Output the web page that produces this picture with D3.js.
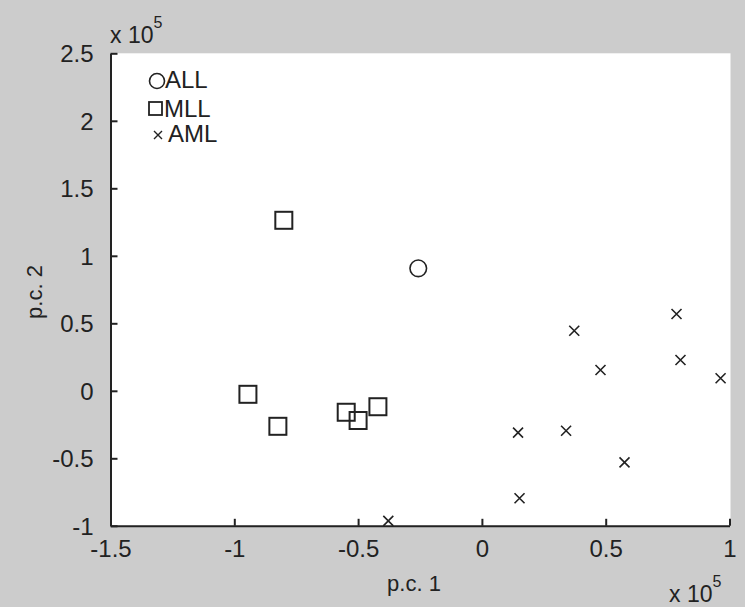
<!DOCTYPE html>
<html>
<head>
<meta charset="utf-8">
<script src="https://cdn.jsdelivr.net/npm/d3@7/dist/d3.min.js"></script>
<style>
  html, body { margin: 0; padding: 0; background: #cccccc; }
  svg { display: block; }
  text { font-family: "Liberation Sans", Arial, sans-serif; fill: #222; }
</style>
</head>
<body>
<svg id="chart" width="745" height="607"></svg>
<script>
// ---- data (units of 1e5) ----
const xTicks = [-1.5, -1, -0.5, 0, 0.5, 1];
const xTickLabels = ["-1.5", "-1", "-0.5", "0", "0.5", "1"];
const yTicks = [-1, -0.5, 0, 0.5, 1, 1.5, 2, 2.5];
const yTickLabels = ["-1", "-0.5", "0", "0.5", "1", "1.5", "2", "2.5"];

const allX = [-0.257];
const allY = [0.907];
const mllX = [-0.80, -0.945, -0.824, -0.548, -0.50, -0.42];
const mllY = [1.263, -0.026, -0.263, -0.159, -0.22, -0.118];
const amlX = [0.786, 0.373, 0.479, 0.802, 0.964, 0.146, 0.340, 0.576, 0.152, -0.378];
const amlY = [0.569, 0.445, 0.154, 0.228, 0.093, -0.31, -0.296, -0.53, -0.796, -0.964];

const legendLabels = ["ALL", "MLL", "AML"];

// ---- layout ----
const svg = d3.select("#chart");
const x = d3.scaleLinear().domain([-1.5, 1]).range([110.5, 729.5]);
const y = d3.scaleLinear().domain([-1, 2.5]).range([525.8, 53.3]);
const ink = "#222";

svg.append("rect").attr("width", 745).attr("height", 607).attr("fill", "#cccccc");
svg.append("rect")
  .attr("x", x(-1.5)).attr("y", y(2.5))
  .attr("width", x(1) - x(-1.5) + 1).attr("height", y(-1) - y(2.5))
  .attr("fill", "#ffffff");

// axes
const xAxis = d3.axisBottom(x).tickValues(xTicks)
  .tickFormat((d, i) => xTickLabels[i]).tickSizeInner(-7).tickSizeOuter(0).tickPadding(14);
const yAxis = d3.axisLeft(y).tickValues(yTicks)
  .tickFormat((d, i) => yTickLabels[i]).tickSizeInner(-7).tickSizeOuter(0).tickPadding(17);

const gx = svg.append("g").attr("transform", `translate(0,${y(-1)})`).call(xAxis);
const gy = svg.append("g").attr("transform", `translate(${x(-1.5)},0)`).call(yAxis);
[gx, gy].forEach(g => {
  g.select(".domain").attr("stroke", ink).attr("stroke-width", 2);
  g.selectAll(".tick line").attr("stroke", ink).attr("stroke-width", 2);
  g.selectAll(".tick text").attr("font-size", 24).attr("fill", ink)
    .attr("font-family", "'Liberation Sans', Arial, sans-serif");
});
gx.selectAll(".tick text").attr("dy", "0.71em");
gy.selectAll(".tick text").attr("dy", "0.36em");

// exponent labels
function expLabel(xp, yp) {
  const t = svg.append("text").attr("x", xp).attr("y", yp).attr("font-size", 23).attr("fill", ink);
  t.append("tspan").text("x 10");
  t.append("tspan").attr("font-size", 16).attr("dy", -15).text("5");
}
expLabel(110, 43);
expLabel(669, 602);

// axis labels
svg.append("text").attr("x", 414).attr("y", 591).attr("text-anchor", "middle")
  .attr("font-size", 22).text("p.c. 1");
svg.append("text").attr("transform", "translate(42,292) rotate(-90)")
  .attr("text-anchor", "middle").attr("font-size", 22).text("p.c. 2");

// markers
const plot = svg.append("g");
plot.selectAll(".mll").data(mllX.map((v, i) => [v, mllY[i]])).join("rect")
  .attr("x", d => x(d[0]) - 8.5).attr("y", d => y(d[1]) - 8.5)
  .attr("width", 17).attr("height", 17)
  .attr("fill", "none").attr("stroke", ink).attr("stroke-width", 2);
plot.selectAll(".all").data(allX.map((v, i) => [v, allY[i]])).join("circle")
  .attr("cx", d => x(d[0])).attr("cy", d => y(d[1])).attr("r", 8.3)
  .attr("fill", "none").attr("stroke", ink).attr("stroke-width", 1.6);
const crossPath = "M-5,-5L5,5M-5,5L5,-5";
plot.selectAll(".aml").data(amlX.map((v, i) => [v, amlY[i]])).join("path")
  .attr("transform", d => `translate(${x(d[0])},${y(d[1])})`)
  .attr("d", crossPath).attr("fill", "none").attr("stroke", ink).attr("stroke-width", 1.6);

// legend
const lg = svg.append("g");
lg.append("circle").attr("cx", 157).attr("cy", 81).attr("r", 7.5)
  .attr("fill", "none").attr("stroke", ink).attr("stroke-width", 1.6);
lg.append("rect").attr("x", 149).attr("y", 102).attr("width", 13).attr("height", 13)
  .attr("fill", "none").attr("stroke", ink).attr("stroke-width", 1.8);
lg.append("path").attr("transform", "translate(158,135)").attr("d", "M-4,-4L4,4M-4,4L4,-4")
  .attr("fill", "none").attr("stroke", ink).attr("stroke-width", 1.4);
const legX = [165, 164, 168];
const legY = [88, 117, 142];
legendLabels.forEach((s, i) => {
  lg.append("text").attr("x", legX[i]).attr("y", legY[i]).attr("font-size", 24).text(s);
});
</script>
</body>
</html>
